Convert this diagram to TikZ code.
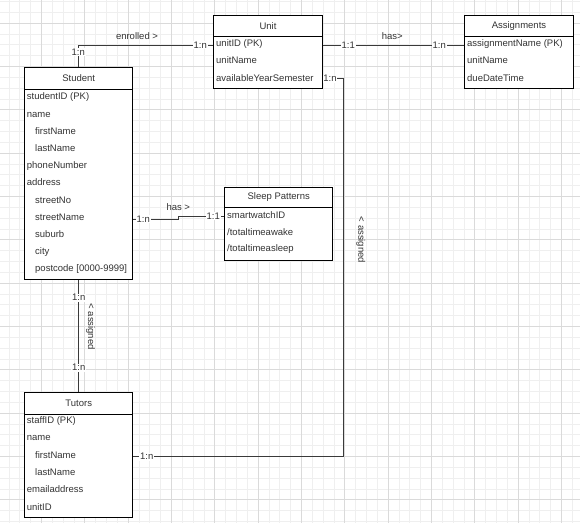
\documentclass[tikz,border=0pt]{standalone}
\usepackage{fontspec}
\setmainfont{Liberation Sans}
\definecolor{gridminor}{HTML}{EFEFEF}
\definecolor{gridmajor}{HTML}{DADADA}
\definecolor{ink}{HTML}{333333}
\definecolor{wire}{HTML}{3A3A3A}
\newcommand\erfont{\fontsize{9.5}{11}\selectfont}
\tikzset{
  entity/.style={rectangle,draw=black,line width=0.9pt,fill=white,anchor=north west,inner sep=0},
  title/.style={font=\erfont,text=ink,inner sep=0},
  attr/.style={font=\erfont,text=ink,anchor=west,inner sep=0,text height=7,text depth=2},
  card/.style={font=\erfont,text=ink,fill=white,inner sep=0.8},
  rel/.style={font=\erfont,text=ink,inner sep=0},
  wireline/.style={draw=wire,line width=0.8pt}
}
\begin{document}
\begin{tikzpicture}[x=1pt,y=-1pt]
\useasboundingbox (0,0) rectangle (580,523);
%grid
\foreach \k in {0,...,54}
{
\draw[gridminor,line width=0.6pt]({-2+10.833*\k},0)--({-2+10.833*\k},523);
}
\foreach \k in {0,...,48}
{
\draw[gridminor,line width=0.6pt](0,{1.33+10.833*\k})--(580,{1.33+10.833*\k});
}
\foreach \k in {1,...,13}
{
\draw[gridmajor,line width=0.7pt]({-2+43.33*\k},0)--({-2+43.33*\k},523);
}
\foreach \k in {0,...,11}
{
\draw[gridmajor,line width=0.7pt](0,{23+43.33*\k})--(580,{23+43.33*\k});
}

%entities
\node[entity,minimum width=108,minimum height=211.7](student)at(24.3,67.3){};
\node[entity,minimum width=108.4,minimum height=73](unit)at(213.3,15.3){};
\node[entity,minimum width=108.4,minimum height=73](assign)at(464.3,15.3){};
\node[entity,minimum width=108,minimum height=73.3](sleep)at(224.3,186.7){};
\node[entity,minimum width=108,minimum height=125.3](tutors)at(24.3,392){};
%header lines
\draw[line width=0.9pt]([yshift=-22]student.north west)--([yshift=-22]student.north east);
\draw[line width=0.9pt]([yshift=-20.7]unit.north west)--([yshift=-20.7]unit.north east);
\draw[line width=0.9pt]([yshift=-20.7]assign.north west)--([yshift=-20.7]assign.north east);
\draw[line width=0.9pt]([yshift=-21]sleep.north west)--([yshift=-21]sleep.north east);
\draw[line width=0.9pt]([yshift=-22]tutors.north west)--([yshift=-22]tutors.north east);
%titles
\node[title](student-t)at([yshift=-11]student.north){Student};
\node[title](unit-t)at([yshift=-10.3]unit.north){Unit};
\node[title](assign-t)at([yshift=-10.3]assign.north){Assignments};
\node[title](sleep-t)at([yshift=-10.5]sleep.north){Sleep Patterns};
\node[title](tutors-t)at([yshift=-11]tutors.north){Tutors};
%attributes
\foreach \d/\t [count=\i from 0] in {0/{studentID (PK)},0/name,1/firstName,1/lastName,0/phoneNumber,0/address,1/streetNo,1/streetName,1/suburb,1/city,1/{postcode [0000-9999]}}
{
\node[attr](s\i)at({26.7+8.3*\d},{97.3+17.2*\i}){\t};
}
\foreach \t [count=\i from 0] in {{unitID (PK)},unitName,availableYearSemester}
{
\node[attr](u\i)at(216,{44+17.3*\i}){\t};
}
\foreach \t [count=\i from 0] in {{assignmentName (PK)},unitName,dueDateTime}
{
\node[attr](a\i)at(467,{44+17.3*\i}){\t};
}
\foreach \t [count=\i from 0] in {smartwatchID,/totaltimeawake,/totaltimeasleep}
{
\node[attr](w\i)at(227,{216+16.7*\i}){\t};
}
\foreach \d/\t [count=\i from 0] in {0/{staffID (PK)},0/name,1/firstName,1/lastName,0/emailaddress,0/unitID}
{
\node[attr](t\i)at({26.7+8.3*\d},{421+17.3*\i}){\t};
}

%relationships
\coordinate(jog)at(178.3,219);
\coordinate(bend)at(343.3,456.7);
\draw[wireline](student.north)|-([yshift=-1]unit.west|-u0);
\draw[wireline]([yshift=-1]unit.east|-u0)--([yshift=-1]assign.west|-a0);
\draw[wireline](unit.east|-u2)-|(bend)--(tutors.east|-bend);
\draw[wireline](student.east|-jog)--(jog)|-(sleep.west|-w0);
\draw[wireline](student.south)--(tutors.north);

%labels
\node[card](su-a)at(78.3,52){1:n};
\node[card](su-b)at(200.3,45){1:n};
\node[rel](su-r)at(137,36){enrolled >};
\node[card](ua-a)at(348.3,45){1:1};
\node[card](ua-b)at(439.3,45){1:n};
\node[rel](ua-r)at(392.3,36){has>};
\node[card](ut-a)at(330,78.7){1:n};
\node[card](ut-b)at(146.7,456.7){1:n};
\node[rel,rotate=-90](ut-r)at(360.7,240){< assigned};
\node[card](sw-a)at(143.3,219){1:n};
\node[card](sw-b)at(213.3,216.3){1:1};
\node[rel](sw-r)at(178.3,207.3){has >};
\node[card](st-a)at(78.7,297.7){1:n};
\node[card](st-b)at(78.7,367.7){1:n};
\node[rel,rotate=-90](st-r)at(90.5,326.7){< assigned};
\end{tikzpicture}
\end{document}
